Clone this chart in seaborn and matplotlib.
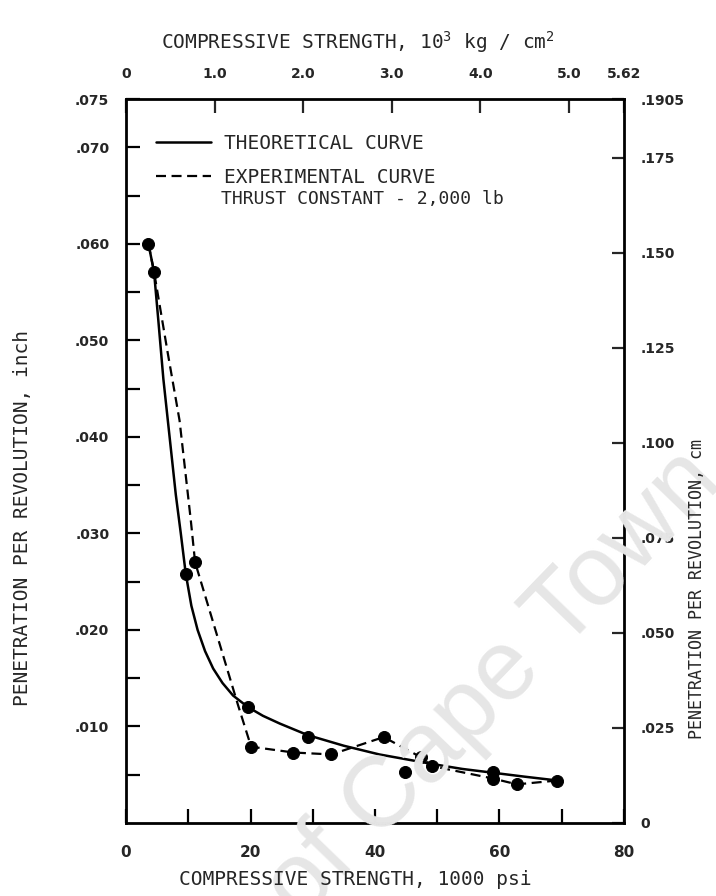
import matplotlib
matplotlib.use("Agg")
import matplotlib.pyplot as plt
import seaborn as sns
import pandas as pd

# theoretical curve (x: 1000 psi, y: inch per revolution)
theory_ksi = [3.6, 4.5, 5.2, 6.0, 7.0, 8.0, 8.8, 9.6, 10.5, 11.5, 12.7, 14.0, 15.5, 17.2, 19.6,
              22.0, 24.7, 29.2, 35.0, 40.7, 45.0, 49.3, 54.0, 59.0, 64.0, 69.3]
theory_pen = [0.0600, 0.0571, 0.0520, 0.0460, 0.0400, 0.0340, 0.0300, 0.0258, 0.0225, 0.0200,
              0.0178, 0.0160, 0.0145, 0.0132, 0.0120, 0.0111, 0.0103, 0.0091, 0.0080, 0.0071,
              0.0066, 0.0061, 0.0056, 0.0052, 0.0048, 0.0044]

# experimental (dashed) curve vertices
exp_ksi = [3.6, 4.5, 6.7, 8.6, 10.4, 11.1, 18.0, 20.1, 26.9, 33.0, 41.4, 47.4, 49.1, 59.0, 62.8, 69.3]
exp_pen = [0.0600, 0.0571, 0.0487, 0.0417, 0.0314, 0.0270, 0.0122, 0.0079, 0.0073, 0.0071,
           0.0089, 0.0068, 0.0059, 0.0046, 0.0040, 0.0044]

# measured points
point_ksi = [3.6, 4.5, 9.6, 11.1, 19.6, 20.1, 26.9, 29.2, 33.0, 41.4, 44.8, 47.4, 49.1, 59.0, 59.0, 62.8, 69.3]
point_pen = [0.0600, 0.0571, 0.0258, 0.0270, 0.0120, 0.0079, 0.0073, 0.0089, 0.0071, 0.0089,
             0.0053, 0.0068, 0.0059, 0.0053, 0.0046, 0.0040, 0.0044]

inch_ticks = [0.010, 0.020, 0.030, 0.040, 0.050, 0.060, 0.070, 0.075]
inch_labels = [".010", ".020", ".030", ".040", ".050", ".060", ".070", ".075"]
inch_minor = [0.005, 0.015, 0.025, 0.035, 0.045, 0.055, 0.065]
cm_ticks = [0, 0.025, 0.050, 0.075, 0.100, 0.125, 0.150, 0.175, 0.1905]
cm_labels = ["0", ".025", ".050", ".075", ".100", ".125", ".150", ".175", ".1905"]
psi_ticks = [0, 20, 40, 60, 80]
psi_labels = ["0", "20", "40", "60", "80"]
psi_minor = [10, 30, 50, 70]
kg_ticks = [0, 1.0, 2.0, 3.0, 4.0, 5.0, 5.62]
kg_labels = ["0", "1.0", "2.0", "3.0", "4.0", "5.0", "5.62"]

sns.set_style("white")
plt.rcParams["font.family"] = ["DejaVu Sans Mono"]
plt.rcParams["mathtext.default"] = "regular"

fig = plt.figure(figsize=(7.16, 8.96), dpi=100)

# faint watermark of the scanned page
fig.text(0.42, -0.03, "of Cape Town", fontsize=72, family="Liberation Sans", color="#e6e6e6",
         rotation=46, rotation_mode="anchor", ha="left", va="baseline", zorder=0)

ax = fig.add_axes([0.176, 0.0815, 0.6955, 0.808])
ax.patch.set_alpha(0)

theory = pd.DataFrame({"ksi": theory_ksi, "pen": theory_pen})
exp = pd.DataFrame({"ksi": exp_ksi, "pen": exp_pen})
points = pd.DataFrame({"ksi": point_ksi, "pen": point_pen})

sns.lineplot(data=theory, x="ksi", y="pen", sort=False, estimator=None, color="black",
             linewidth=1.8, ax=ax, label="THEORETICAL CURVE")
sns.lineplot(data=exp, x="ksi", y="pen", sort=False, estimator=None, color="black",
             linewidth=1.6, ax=ax, label="EXPERIMENTAL CURVE")
ax.lines[1].set_dashes((4.5, 2.5))
sns.scatterplot(data=points, x="ksi", y="pen", s=75, color="black", edgecolor="black",
                zorder=5, ax=ax, legend=False)

ax.set_xlim(0, 80)
ax.set_ylim(0, 0.075)
ax.set_xlabel("")
ax.set_ylabel("")

for side in ax.spines.values():
    side.set_linewidth(2)
    side.set_color("black")

ax.set_xticks(psi_ticks, psi_labels)
ax.set_xticks(psi_minor, minor=True)
ax.set_yticks(inch_ticks, inch_labels)
ax.set_yticks(inch_minor, minor=True)
ax.tick_params(which="both", direction="in", length=10, width=1.6, color="black",
               bottom=True, left=True, top=False, right=False)
ax.tick_params(axis="x", pad=16, labelsize=11)
ax.tick_params(axis="y", pad=12, labelsize=10)
for lab in ax.get_xticklabels() + ax.get_yticklabels():
    lab.set_family("DejaVu Sans")
    lab.set_weight("bold")

top = ax.secondary_xaxis("top", functions=(lambda v: v * 5.62 / 80, lambda v: v * 80 / 5.62))
top.set_xticks(kg_ticks, kg_labels)
top.tick_params(direction="in", length=10, width=1.6, pad=13, labelsize=10)
top.spines["top"].set_visible(False)

right = ax.secondary_yaxis("right", functions=(lambda v: v * 2.54, lambda v: v / 2.54))
right.set_yticks(cm_ticks, cm_labels)
right.tick_params(direction="in", length=9, width=1.6, pad=12, labelsize=10)
right.spines["right"].set_visible(False)
for lab in top.get_xticklabels() + right.get_yticklabels():
    lab.set_family("DejaVu Sans")
    lab.set_weight("bold")

ax.legend(loc="upper left", bbox_to_anchor=(0.045, 0.962), frameon=False, fontsize=14,
          handlelength=2.8, handletextpad=0.7, labelspacing=0.75, borderaxespad=0)
ax.text(0.19, 0.862, "THRUST CONSTANT - 2,000 lb", transform=ax.transAxes, fontsize=13,
        va="center", ha="left")

fig.text(0.5, 0.953, r"COMPRESSIVE STRENGTH, 10$^3$ kg / cm$^2$", fontsize=14, ha="center", va="center")
fig.text(0.496, 0.018, "COMPRESSIVE STRENGTH, 1000 psi", fontsize=14, ha="center", va="center")
fig.text(0.031, 0.422, "PENETRATION PER REVOLUTION, inch", fontsize=14, rotation=90,
         ha="center", va="center")
fig.text(0.973, 0.343, "PENETRATION PER REVOLUTION, cm", fontsize=12, rotation=90,
         ha="center", va="center")

fig.savefig("out.png", dpi=100)
